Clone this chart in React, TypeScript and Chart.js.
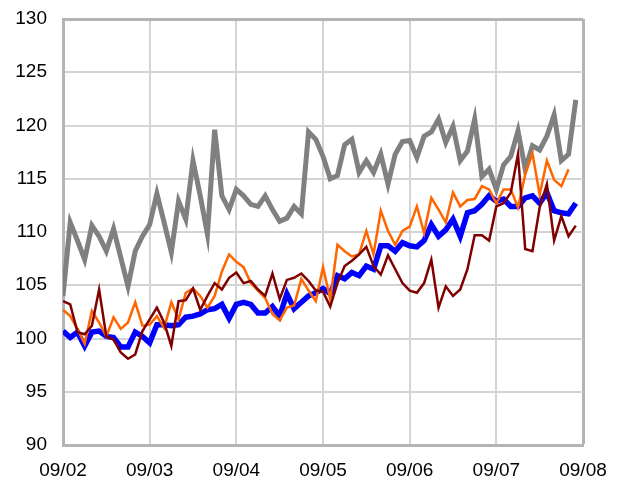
import React, { useEffect, useRef } from "react";
import { Chart, registerables } from "chart.js";

Chart.register(...registerables);

const xTickLabels = ["09/02", "09/03", "09/04", "09/05", "09/06", "09/07", "09/08"];
const yTicks = [90, 95, 100, 105, 110, 115, 120, 125, 130];

const grayValues = [
  104.0, 110.9, 109.2, 107.4, 110.6, 109.6, 108.2, 110.3, 107.6, 104.9, 108.2, 109.6,
  110.7, 113.6, 110.9, 108.1, 112.9, 111.2, 116.7, 113.4, 109.8, 119.6, 113.4, 112.1,
  114.0, 113.4, 112.6, 112.4, 113.4, 112.1, 111.0, 111.3, 112.4, 111.7, 119.4, 118.7,
  117.1, 115.0, 115.3, 118.2, 118.7, 115.6, 116.7, 115.6, 117.3, 114.5, 117.3, 118.5,
  118.6, 117.0, 119.0, 119.4, 120.6, 118.4, 119.9, 116.7, 117.6, 120.6, 115.2, 115.9,
  114.0, 116.3, 117.1, 119.5, 115.9, 118.1, 117.7, 119.0, 121.0, 116.7, 117.3, 122.4,
];

const blueValues = [
  100.7, 100.1, 100.6, 99.3, 100.6, 100.7, 100.2, 100.1, 99.2, 99.2, 100.6, 100.2,
  99.6, 101.3, 101.3, 101.2, 101.3, 102.0, 102.1, 102.3, 102.7, 102.8, 103.2, 101.9,
  103.2, 103.4, 103.2, 102.4, 102.4, 103.0, 102.1, 104.2, 102.8, 103.4, 104.0, 104.3,
  104.7, 104.2, 105.9, 105.6, 106.2, 105.9, 106.8, 106.5, 108.7, 108.7, 108.2, 109.0,
  108.7, 108.6, 109.2, 110.7, 109.6, 110.2, 111.2, 109.6, 111.8, 112.0, 112.6, 113.4,
  112.9, 113.1, 112.4, 112.4, 113.2, 113.4, 112.7, 113.7, 112.0, 111.8, 111.7, 112.7,
];

const orangeValues = [
  102.7, 102.1, 100.9, 99.5, 102.6, 101.5, 100.2, 102.0, 100.9, 101.5, 103.4, 101.2,
  101.3, 102.1, 101.0, 103.4, 101.8, 104.3, 104.7, 104.0, 102.9, 104.0, 106.3, 107.9,
  107.2, 106.7, 105.2, 104.5, 103.8, 102.3, 101.7, 102.9, 103.1, 105.6, 104.5, 103.5,
  106.7, 103.7, 108.8, 108.2, 107.7, 107.9, 110.1, 107.9, 112.0, 110.1, 108.8, 110.1,
  110.5, 112.4, 109.9, 113.2, 112.1, 110.9, 113.7, 112.4, 113.0, 113.1, 114.3, 114.0,
  112.7, 114.0, 114.0, 112.3, 115.4, 117.4, 113.5, 116.7, 114.9, 114.3, 115.9,
];

const darkRedValues = [
  103.5, 103.2, 100.6, 100.4, 101.2, 104.6, 100.2, 99.9, 98.7, 98.1, 98.5, 100.7,
  101.8, 102.9, 101.5, 99.3, 103.5, 103.6, 104.7, 102.7, 104.0, 105.2, 104.6, 105.7,
  106.2, 105.2, 105.4, 104.6, 104.0, 106.1, 103.7, 105.5, 105.7, 106.1, 105.4, 104.5,
  104.4, 103.0, 105.2, 106.8, 107.3, 107.9, 108.6, 106.8, 106.0, 107.8, 106.5, 105.2,
  104.5, 104.3, 105.2, 107.4, 102.9, 104.9, 104.0, 104.6, 106.5, 109.7, 109.7, 109.2,
  112.4, 112.7, 113.7, 117.3, 108.4, 108.2, 112.3, 114.5, 109.2, 111.5, 109.6, 110.6,
];

const toPoints = (arr: number[]) => arr.map((v, i) => ({ x: i, y: v }));

export default function App() {
  const canvasRef = useRef<HTMLCanvasElement | null>(null);

  useEffect(() => {
    const canvas = canvasRef.current;
    if (!canvas) return;
    const font = { family: "'Liberation Sans', Arial, sans-serif", size: 19 };
    const edgeColor = "#b4b4b4";
    const gridColor = "#d4d4d4";
    const zeroPad = (s: any) => {
      s.paddingTop = 0;
      s.paddingBottom = 0;
      s.paddingLeft = 0;
      s.paddingRight = 0;
    };
    const chart = new Chart(canvas, {
      type: "line",
      data: {
        datasets: [
          {
            data: toPoints(darkRedValues),
            borderColor: "#800000",
            borderWidth: 2.5,
            pointRadius: 0,
            tension: 0,
            fill: false,
          },
          {
            data: toPoints(orangeValues),
            borderColor: "#ff6600",
            borderWidth: 2.5,
            pointRadius: 0,
            tension: 0,
            fill: false,
          },
          {
            data: toPoints(blueValues),
            borderColor: "#0000ff",
            borderWidth: 5.5,
            pointRadius: 0,
            tension: 0,
            fill: false,
          },
          {
            data: toPoints(grayValues),
            borderColor: "#808080",
            borderWidth: 5,
            pointRadius: 0,
            tension: 0,
            fill: false,
          },
        ],
      },
      options: {
        responsive: false,
        animation: false,
        devicePixelRatio: 1,
        layout: { padding: { left: 0, top: 19, right: 39, bottom: 0 } },
        plugins: { legend: { display: false }, tooltip: { enabled: false } },
        scales: {
          x: {
            type: "linear",
            min: 0,
            max: 72,
            afterFit: (s: any) => {
              s.height = 43;
              zeroPad(s);
            },
            ticks: {
              stepSize: 12,
              autoSkip: false,
              maxRotation: 0,
              padding: 14,
              color: "#000",
              font,
              callback: (v: any) => xTickLabels[Math.round(Number(v) / 12)] ?? "",
            },
            grid: {
              drawTicks: false,
              color: (ctx: any) => (ctx.index === 6 ? edgeColor : gridColor),
              lineWidth: (ctx: any) => (ctx.index === 6 ? 3 : 2),
            },
            border: { display: true, color: edgeColor, width: 3 },
          },
          y: {
            min: 90,
            max: 130,
            afterFit: (s: any) => {
              s.width = 63;
              zeroPad(s);
            },
            afterBuildTicks: (s: any) => {
              s.ticks = yTicks.map((v) => ({ value: v }));
            },
            ticks: {
              padding: 16,
              color: "#000",
              font,
            },
            grid: {
              drawTicks: false,
              color: (ctx: any) => (ctx.index === yTicks.length - 1 ? edgeColor : gridColor),
              lineWidth: (ctx: any) => (ctx.index === yTicks.length - 1 ? 3 : 2),
            },
            border: { display: true, color: edgeColor, width: 3 },
          },
        },
      },
    } as any);
    return () => chart.destroy();
  }, []);

  return (
    <div style={{ position: "fixed", left: 0, top: 0, width: 622, height: 488, background: "#fff" }}>
      <canvas ref={canvasRef} width={622} height={488} style={{ display: "block" }} />
    </div>
  );
}
